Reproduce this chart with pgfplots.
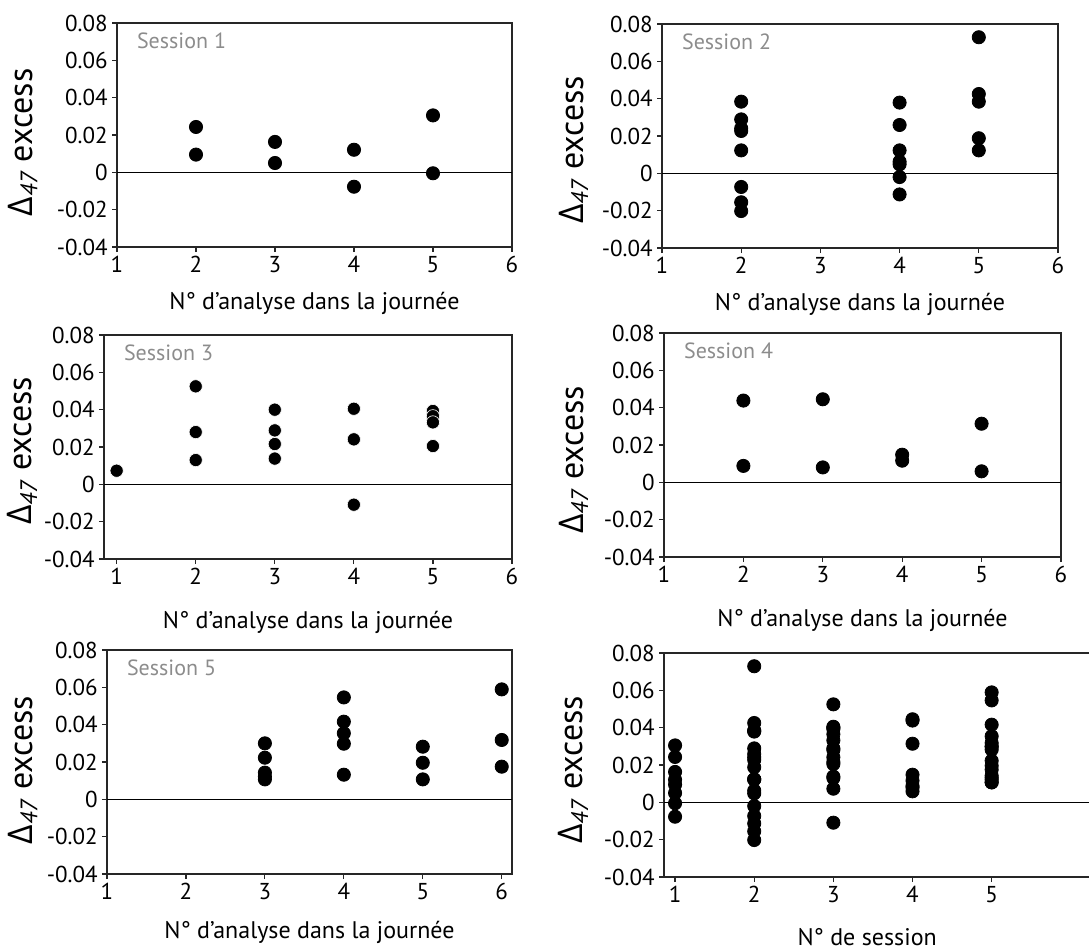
\documentclass[border=0pt]{standalone}
\usepackage{pgfplots}
\pgfplotsset{compat=1.18}
\usepackage{fontspec}
\setmainfont{PT Sans}
\newfontfamily\grk{Open Sans}
\definecolor{sessgray}{RGB}{140,140,140}
\newcommand{\dlab}{{\grk Δ}\textsubscript{\itshape 47} excess}
\pgfplotsset{
  panel/.style={
    scale only axis, anchor=south west,
    ymin=-0.04, ymax=0.08,
    ytick={-0.04,-0.02,0,0.02,0.04,0.06,0.08},
    yticklabels={-0.04,-0.02,0,0.02,0.04,0.06,0.08},
    scaled y ticks=false, scaled x ticks=false,
    tick align=outside, tick pos=left,
    major tick length=2.5pt,
    tick style={line width=0.6pt, black!85},
    axis line style={line width=0.6pt, black!85},
    ticklabel style={font=\fontsize{11.5}{13}\selectfont, inner sep=2pt},
    /pgf/number format/assume math mode=true,
    ylabel={\dlab},
  },
  xl/.style={xlabel style={at={(axis description cs:#1)}, anchor=base, font=\fontsize{12}{14}\selectfont}},
  yl/.style={ylabel style={at={(axis description cs:#1)}, anchor=base, rotate=0, font=\fontsize{17}{20}\selectfont}},
  pts/.style={only marks, mark=*, mark size=3.3pt, black},
  zl/.style={black, line width=0.6pt, forget plot},
}
\newcommand{\sess}[1]{\node[anchor=base west, text=sessgray, font=\fontsize{11}{13}\selectfont] at ([xshift=6.5pt,yshift=-12.8pt]rel axis cs:0,1) {Session #1};}
\begin{document}
\begin{tikzpicture}
\useasboundingbox (0,0) rectangle (544.5pt,-474.5pt);

% Panel 1
\begin{axis}[panel, at={(58.5pt,-123.5pt)}, width=197.5pt, height=112pt,
  xmin=1, xmax=6, xtick={1,2,3,4,5,6},
  xlabel={N° d'analyse dans la journée},
  xl={0.5,-0.277}, yl={-0.215,0.467}]
\addplot[zl] coordinates {(1,0) (6,0)};
\addplot[pts] coordinates {(2,0.0243) (2,0.0095) (3,0.0163) (3,0.0050) (4,0.0121) (4,-0.0077) (5,0.0305) (5,-0.0005)};
\sess{1}
\end{axis}

% Panel 2
\begin{axis}[panel, at={(331pt,-124pt)}, width=198pt, height=112pt,
  xmin=1, xmax=6, xtick={1,2,3,4,5,6},
  xlabel={N° d'analyse dans la journée},
  xl={0.5,-0.277}, yl={-0.1995,0.4375}]
\addplot[zl] coordinates {(1,0) (6,0)};
\addplot[pts] coordinates {(2,0.0384) (2,0.0289) (2,0.0241) (2,0.0227) (2,0.0123) (2,-0.0073) (2,-0.0155) (2,-0.0202)
 (4,0.0379) (4,0.0259) (4,0.0123) (4,0.0063) (4,0.0048) (4,-0.0020) (4,-0.0113)
 (5,0.0729) (5,0.0425) (5,0.0384) (5,0.0188) (5,0.0123)};
\sess{2}
\end{axis}

% Panel 3
\begin{axis}[panel, at={(52pt,-279.5pt)}, width=204pt, height=112pt,
  xmin=0.84, xmax=6, xtick={1,2,3,4,5,6},
  xlabel={N° d'analyse dans la journée},
  xl={0.5,-0.308}, yl={-0.1765,0.482}]
\addplot[zl] coordinates {(0.84,0) (6,0)};
\addplot[pts, mark options={draw=white, line width=0.3pt, fill=black}] coordinates {(1,0.0073)
 (2,0.0525) (2,0.0280) (2,0.0130)
 (3,0.0400) (3,0.0289) (3,0.0216) (3,0.0138)
 (4,0.0405) (4,0.0241) (4,-0.0109)
 (5,0.0393) (5,0.0365) (5,0.0332) (5,0.0205)};
\sess{3}
\end{axis}

% Panel 4
\begin{axis}[panel, at={(332pt,-278.5pt)}, width=198.5pt, height=112pt,
  xmin=1, xmax=6, xtick={1,2,3,4,5,6},
  xlabel={N° d'analyse dans la journée},
  xl={0.5,-0.308}, yl={-0.204,0.433}]
\addplot[zl] coordinates {(1,0) (6,0)};
\addplot[pts] coordinates {(2,0.0438) (2,0.0088) (3,0.0445) (3,0.0080) (4,0.0148) (4,0.0116) (5,0.0314) (5,0.0059)};
\sess{4}
\end{axis}

% Panel 5
\begin{axis}[panel, at={(53.5pt,-437pt)}, width=202.5pt, height=112pt,
  xmin=1, xmax=6.13, xtick={1,2,3,4,5,6},
  xlabel={N° d'analyse dans la journée},
  xl={0.5,-0.286}, yl={-0.185,0.464}]
\addplot[zl] coordinates {(1,0) (6.13,0)};
\addplot[pts] coordinates {(3,0.0300) (3,0.0223) (3,0.0143) (3,0.0122) (3,0.0107)
 (4,0.0546) (4,0.0416) (4,0.0354) (4,0.0298) (4,0.0132)
 (5,0.0282) (5,0.0196) (5,0.0107)
 (6,0.0589) (6,0.0318) (6,0.0175)};
\sess{5}
\end{axis}

% Panel 6
\begin{axis}[panel, at={(332pt,-438.5pt)}, width=212.5pt, height=112pt,
  xmin=0.86, xmax=6.23, xtick={1,2,3,4,5},
  axis y line*=left, axis x line*=box, axis line style={-},
  tick pos=left,
  xlabel={N° de session},
  xl={0.478,-0.304}, yl={-0.1906,0.478}]
\addplot[zl] coordinates {(0.86,0) (6.23,0)};
\addplot[pts] coordinates {
 (1,0.0243) (1,0.0095) (1,0.0163) (1,0.0050) (1,0.0121) (1,-0.0077) (1,0.0305) (1,-0.0005)
 (2,0.0384) (2,0.0289) (2,0.0241) (2,0.0227) (2,0.0123) (2,-0.0073) (2,-0.0155) (2,-0.0202)
 (2,0.0379) (2,0.0259) (2,0.0123) (2,0.0063) (2,0.0048) (2,-0.0020) (2,-0.0113)
 (2,0.0729) (2,0.0425) (2,0.0384) (2,0.0188) (2,0.0123)
 (3,0.0073) (3,0.0525) (3,0.0280) (3,0.0130) (3,0.0400) (3,0.0289) (3,0.0216) (3,0.0138)
 (3,0.0405) (3,0.0241) (3,-0.0109) (3,0.0393) (3,0.0365) (3,0.0332) (3,0.0205)
 (4,0.0438) (4,0.0088) (4,0.0445) (4,0.0080) (4,0.0148) (4,0.0116) (4,0.0314) (4,0.0059)
 (5,0.0300) (5,0.0223) (5,0.0143) (5,0.0122) (5,0.0107) (5,0.0546) (5,0.0416) (5,0.0354)
 (5,0.0298) (5,0.0132) (5,0.0282) (5,0.0196) (5,0.0107) (5,0.0589) (5,0.0318) (5,0.0175)};
\end{axis}
\end{tikzpicture}
\end{document}
